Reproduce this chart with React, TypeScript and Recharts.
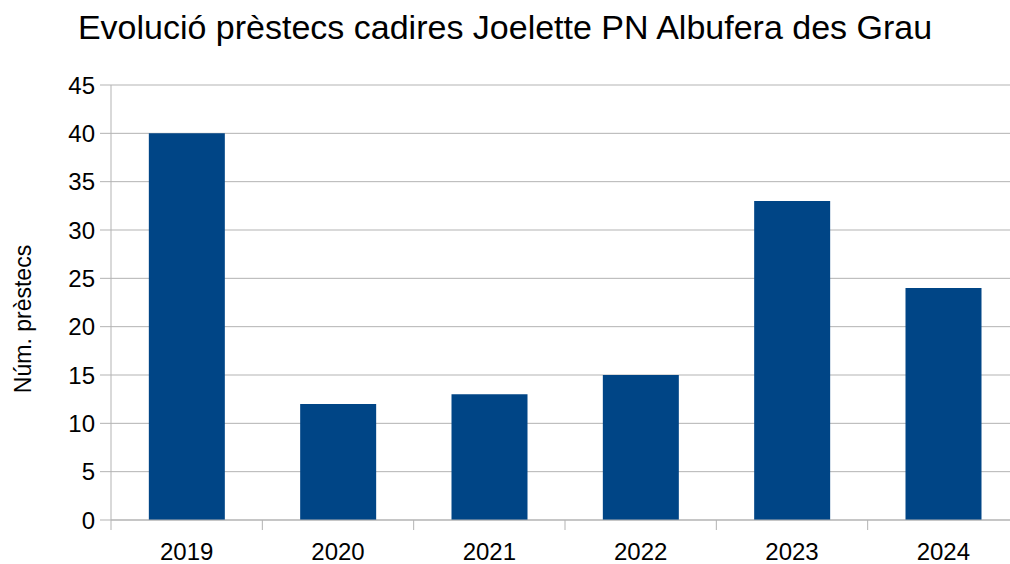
import React from "react";
import { BarChart, Bar, XAxis, YAxis, CartesianGrid } from "recharts";

const years = ["2019", "2020", "2021", "2022", "2023", "2024"];
const loans = [40, 12, 13, 15, 33, 24];
const yTicks = [0, 5, 10, 15, 20, 25, 30, 35, 40, 45];

const data = years.map((y, i) => ({ year: y, value: loans[i] }));

const FONT = "'Liberation Sans', Arial, sans-serif";
const PLOT_LEFT = 111;
const PLOT_RIGHT = 1019;
const HALF_BAND = (PLOT_RIGHT - PLOT_LEFT) / years.length / 2;

const XTick = (props: any) => {
  const { x, y, payload } = props;
  return (
    <g>
      <line x1={x - HALF_BAND} x2={x - HALF_BAND} y1={y} y2={y + 10} stroke="#b3b3b3" strokeWidth={1} />
      <text x={x} y={y + 40} textAnchor="middle" fontSize={24} fontFamily={FONT} fill="#000">
        {payload.value}
      </text>
    </g>
  );
};

export default function App() {
  return (
    <div style={{ position: "fixed", left: 0, top: 0, width: 1010, height: 564, overflow: "hidden", background: "#fff" }}>
      <div
        style={{
          position: "absolute",
          left: 0,
          width: 1010,
          top: 10,
          textAlign: "center",
          fontFamily: FONT,
          fontSize: 34,
          lineHeight: "34px",
          color: "#000",
          whiteSpace: "nowrap",
        }}
      >
        Evolució prèstecs cadires Joelette PN Albufera des Grau
      </div>
      <div
        style={{
          position: "absolute",
          left: 23,
          top: 319,
          transform: "translate(-50%, -50%) rotate(-90deg)",
          fontFamily: FONT,
          fontSize: 23,
          lineHeight: "23px",
          color: "#000",
          whiteSpace: "nowrap",
        }}
      >
        Núm. prèstecs
      </div>
      <div style={{ position: "absolute", left: 0, top: 0 }}>
        <BarChart
          width={1040}
          height={564}
          data={data}
          margin={{ top: 85, right: 1040 - PLOT_RIGHT, bottom: 0, left: 0 }}
          barCategoryGap="25%"
        >
          <CartesianGrid vertical={false} stroke="#b3b3b3" />
          <XAxis
            dataKey="year"
            height={44}
            axisLine={{ stroke: "#b3b3b3" }}
            tickLine={false}
            tickSize={0}
            tickMargin={0}
            tick={<XTick />}
            interval={0}
          />
          <YAxis
            width={PLOT_LEFT}
            domain={[0, 45]}
            ticks={yTicks}
            interval={0}
            axisLine={{ stroke: "#b3b3b3" }}
            tickLine={{ stroke: "#b3b3b3" }}
            tickSize={11}
            tickMargin={5}
            tick={{ fontSize: 24, fontFamily: FONT, fill: "#000" }}
          />
          <Bar dataKey="value" fill="#004586" isAnimationActive={false} />
        </BarChart>
      </div>
    </div>
  );
}
